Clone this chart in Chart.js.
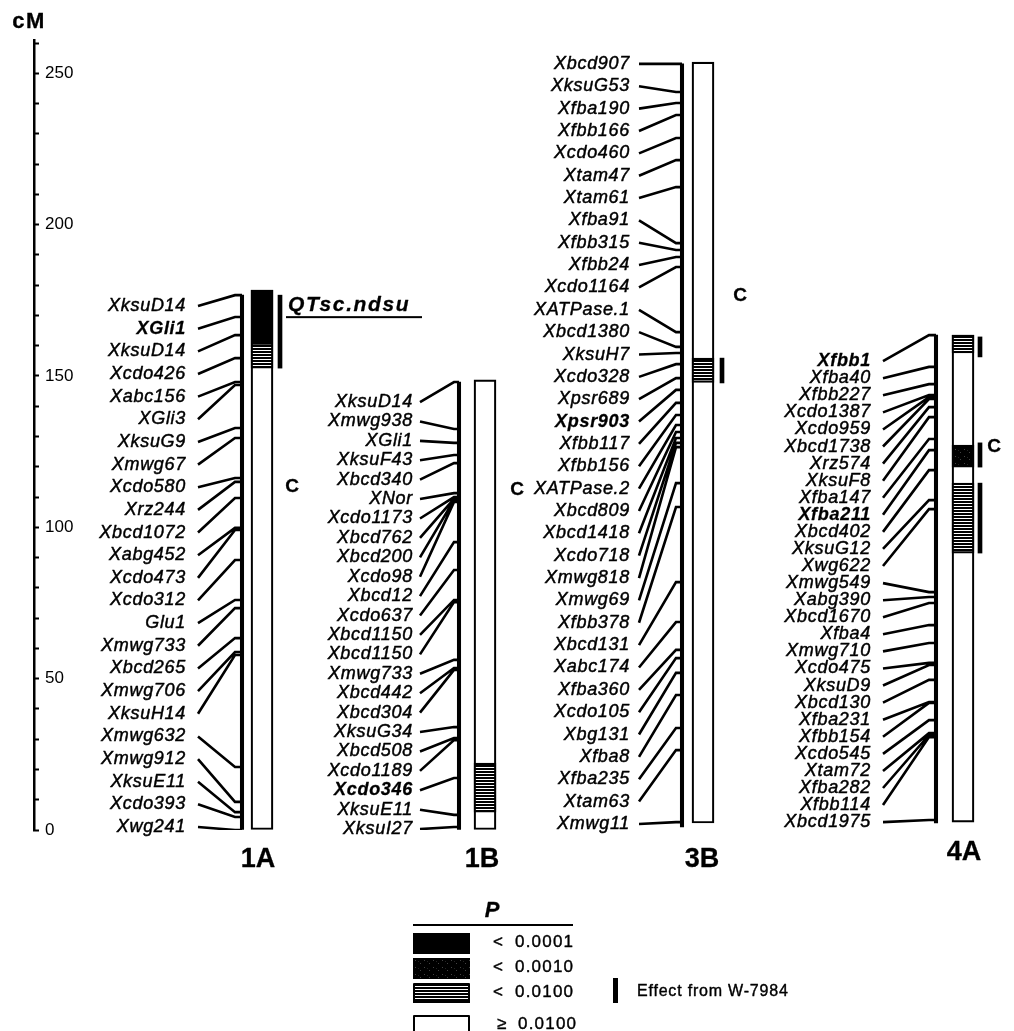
<!DOCTYPE html>
<html><head><meta charset="utf-8">
<script src="https://cdn.jsdelivr.net/npm/chart.js@4.4.1/dist/chart.umd.min.js"></script>
<style>html,body{margin:0;padding:0;background:#fff;}canvas{display:block;}</style>
</head><body>
<canvas id="c" width="1014" height="1031"></canvas>
<script>
// ---------------- DATA (cM) ----------------
const markers1A = ['XksuD14','XGli1','XksuD14','Xcdo426','Xabc156','XGli3','XksuG9','Xmwg67','Xcdo580','Xrz244','Xbcd1072','Xabg452','Xcdo473','Xcdo312','Glu1','Xmwg733','Xbcd265','Xmwg706','XksuH14','Xmwg632','Xmwg912','XksuE11','Xcdo393','Xwg241'];
const pos1A = [176.7,169.5,163.5,155.9,148.0,147.0,132.8,129.5,116.3,115.0,109.7,99.8,99.1,89.2,76.0,73.3,63.4,58.8,57.8,20.8,9.3,5.9,4.3,0];
const bold1A = [1];
const extent1A = [0, 178.4];
const black1A = [[160.9, 178.4]];
const hatch1A = [[152.6, 160.9]];
const dense1A = [];
const effect1A = [[152.6, 176.7]];
const mapLine1A = [0, 176.7];
const centro1A = 113.3;

const markers1B = ['XksuD14','Xmwg938','XGli1','XksuF43','Xbcd340','XNor','Xcdo1173','Xbcd762','Xbcd200','Xcdo98','Xbcd12','Xcdo637','Xbcd1150','Xbcd1150','Xmwg733','Xbcd442','Xbcd304','XksuG34','Xbcd508','Xcdo1189','Xcdo346','XksuE11','XksuI27'];
const pos1B = [148.0,132.5,127.9,123.9,121.2,111.3,110.0,109.4,109.0,108.4,95.1,85.9,76.0,75.3,56.2,53.5,52.9,34.0,30.4,29.7,17.2,5.0,1.0];
const bold1B = [20];
const extent1B = [0, 148.7];
const black1B = [];
const hatch1B = [[5.9, 22.1]];
const dense1B = [];
const effect1B = [];
const mapLine1B = [0, 148.0];
const centro1B = 112.3;

const markers3B = ['Xbcd907','XksuG53','Xfba190','Xfbb166','Xcdo460','Xtam47','Xtam61','Xfba91','Xfbb315','Xfbb24','Xcdo1164','XATPase.1','Xbcd1380','XksuH7','Xcdo328','Xpsr689','Xpsr903','Xfbb117','Xfbb156','XATPase.2','Xbcd809','Xbcd1418','Xcdo718','Xmwg818','Xmwg69','Xfbb378','Xbcd131','Xabc174','Xfba360','Xcdo105','Xbg131','Xfba8','Xfba235','Xtam63','Xmwg11'];
const pos3B = [253.1,243.8,240.2,236.2,228.6,221.3,212.4,193.9,191.6,189.3,186.0,164.5,159.6,157.6,153.9,149.3,145.4,141.1,137.1,133.8,131.5,129.5,127.9,126.5,114.6,106.7,81.9,68.7,59.5,56.8,51.9,44.6,33.7,26.4,2.6];
const bold3B = [16];
const extent3B = [2.3, 253.7];
const black3B = [];
const hatch3B = [[147.9, 155.9]];
const dense3B = [];
const effect3B = [[147.7, 155.9]];
const mapLine3B = [1.0, 253.1];
const centro3B = 176.4;

const markers4A = ['Xfbb1','Xfba40','Xfbb227','Xcdo1387','Xcdo959','Xbcd1738','Xrz574','XksuF8','Xfba147','Xfba211','Xbcd402','XksuG12','Xwg622','Xmwg549','Xabg390','Xbcd1670','Xfba4','Xmwg710','Xcdo475','XksuD9','Xbcd130','Xfba231','Xfbb154','Xcdo545','Xtam72','Xfba282','Xfbb114','Xbcd1975'];
const pos4A = [163.5,153.0,147.3,143.7,143.0,142.4,139.7,136.4,129.2,125.5,118.9,109.0,106.0,78.6,77.0,75.0,67.7,61.8,55.2,54.5,49.6,42.3,42.0,36.3,32.0,31.4,30.7,3.3];
const bold4A = [0, 9];
const extent4A = [2.6, 163.5];
const black4A = [];
const hatch4A = [[157.6, 163.5], [91.5, 114.6]];
const dense4A = [[119.9, 127.2]];
const effect4A = [[156.3, 162.9], [119.9, 127.9], [91.5, 114.6]];
const mapLine4A = [2.3, 163.5];
const centro4A = 126.5;

const chromNames = ['1A', '1B', '3B', '4A'];
const yTickMax = 261;
const qtlName = 'QTsc.ndsu';
const qtlCM = 173.4;
const legendLabels = ['< 0.0001', '< 0.0010', '< 0.0100', '\u2265 0.0100'];
const effectLabel = 'Effect from W-7984';

// ---------------- LAYOUT (pixels / label spacing) ----------------
const FONT = "'Liberation Sans', Arial, Helvetica, sans-serif";
const lay = {
  '1A': {bar: 262, map: 242, knee: 235, start: 198, textRight: 186, effect: 280, nameX: 258, nameY: 860, labelTop: 173.1, labelBottom: 1.0, cX: 292},
  '1B': {bar: 485, map: 459, knee: 454, start: 420, textRight: 413, effect: 0, nameX: 482, nameY: 860, labelTop: 141.4, labelBottom: 0.3, cX: 517},
  '3B': {bar: 703, map: 682, knee: 676, start: 639, textRight: 630, effect: 722, nameX: 702, nameY: 860, labelTop: 253.1, labelBottom: 2.0, cX: 740},
  '4A': {bar: 963, map: 936, knee: 929, start: 883, textRight: 871, effect: 980, nameX: 964, nameY: 853, labelTop: 154.9, labelBottom: 2.6, cX: 994}
};

const chroms = [
  {name: '1A', names: markers1A, pos: pos1A, bold: bold1A, extent: extent1A, black: black1A, hatch: hatch1A, dense: dense1A, effect: effect1A, mapLine: mapLine1A, centro: centro1A},
  {name: '1B', names: markers1B, pos: pos1B, bold: bold1B, extent: extent1B, black: black1B, hatch: hatch1B, dense: dense1B, effect: effect1B, mapLine: mapLine1B, centro: centro1B},
  {name: '3B', names: markers3B, pos: pos3B, bold: bold3B, extent: extent3B, black: black3B, hatch: hatch3B, dense: dense3B, effect: effect3B, mapLine: mapLine3B, centro: centro3B},
  {name: '4A', names: markers4A, pos: pos4A, bold: bold4A, extent: extent4A, black: black4A, hatch: hatch4A, dense: dense4A, effect: effect4A, mapLine: mapLine4A, centro: centro4A}
];

function labelCM(ch, i) {
  const L = lay[ch.name];
  const n = ch.names.length;
  return L.labelTop - (L.labelTop - L.labelBottom) * i / (n - 1);
}

// ---------------- patterns ----------------
const mainCtx = document.getElementById('c').getContext('2d');
function makeStripes() {
  const c = document.createElement('canvas'); c.width = 4; c.height = 3;
  const g = c.getContext('2d');
  g.fillStyle = '#000'; g.fillRect(0, 0, 4, 3);
  g.fillStyle = '#fff'; g.fillRect(0, 2, 4, 1);
  return mainCtx.createPattern(c, 'repeat');
}
function makeDense() {
  const c = document.createElement('canvas'); c.width = 9; c.height = 7;
  const g = c.getContext('2d');
  g.fillStyle = '#000'; g.fillRect(0, 0, 9, 7);
  g.fillStyle = '#444'; g.fillRect(1, 1, 1, 1); g.fillRect(6, 4, 1, 1);
  g.fillStyle = '#222'; g.fillRect(4, 2, 1, 1);
  return mainCtx.createPattern(c, 'repeat');
}
const STRIPES = makeStripes();
const DENSE = makeDense();

// ---------------- datasets ----------------
const datasets = [];
chroms.forEach(ch => {
  const L = lay[ch.name];
  datasets.push({type: 'bar', data: [{x: L.bar, y: ch.extent}], backgroundColor: '#fff', borderColor: '#000',
    borderWidth: 2.2, borderSkipped: false, barThickness: 22, grouped: false, order: 5});
  const seg = (list, fill) => list.forEach(r => datasets.push({type: 'bar', data: [{x: L.bar, y: r}],
    backgroundColor: fill, borderColor: '#000', borderWidth: 2.2, borderSkipped: false, barThickness: 22, grouped: false, order: 4}));
  seg(ch.black, '#000');
  seg(ch.dense, DENSE);
  seg(ch.hatch, STRIPES);
  ch.effect.forEach(r => datasets.push({type: 'bar', data: [{x: L.effect, y: r}], backgroundColor: '#000',
    borderWidth: 0, barThickness: 4, grouped: false, order: 4}));
  datasets.push({type: 'bar', data: [{x: L.map, y: ch.mapLine}], backgroundColor: '#000', borderWidth: 0,
    barThickness: 3.4, grouped: false, order: 3});
  const pts = [];
  ch.pos.forEach((p, i) => {
    pts.push({x: L.start, y: labelCM(ch, i)});
    pts.push({x: L.knee, y: p});
    pts.push({x: L.map, y: p});
    pts.push({x: null, y: null});
  });
  datasets.push({type: 'line', data: pts, borderColor: '#000', borderWidth: 2.6, pointRadius: 0,
    fill: false, tension: 0, spanGaps: false, order: 2, borderJoinStyle: 'miter', borderCapStyle: 'butt'});
});

// ---------------- text plugin ----------------
function txt(ctx, s, x, y, font, align, spacing, stroke) {
  ctx.font = font;
  ctx.textAlign = align;
  try { ctx.letterSpacing = (spacing || 0) + 'px'; } catch (e) {}
  ctx.fillText(s, x, y);
  if (stroke) { ctx.lineWidth = stroke; ctx.strokeText(s, x, y); }
}
const textPlugin = {
  id: 'texts',
  afterDatasetsDraw(chart) {
    const ctx = chart.ctx; const ys = chart.scales.y;
    ctx.save();
    ctx.fillStyle = '#000'; ctx.strokeStyle = '#000'; ctx.lineJoin = 'round';
    ctx.textBaseline = 'middle';
    chroms.forEach(ch => {
      const L = lay[ch.name];
      ch.names.forEach((n, i) => {
        const b = ch.bold.includes(i);
        const f = (b ? 'italic bold 18px ' : 'italic 18px ') + FONT;
        txt(ctx, n, L.textRight, ys.getPixelForValue(labelCM(ch, i)), f, 'right', 0.7, b ? 0.3 : 0.45);
      });
      txt(ctx, 'C', L.cX, ys.getPixelForValue(ch.centro), 'bold 19px ' + FONT, 'center', 0, 0.3);
      txt(ctx, ch.name, L.nameX, L.nameY, 'bold 27px ' + FONT, 'center', 0, 0.3);
    });
    const qy = ys.getPixelForValue(qtlCM);
    txt(ctx, qtlName, 288, qy, 'italic bold 21px ' + FONT, 'left', 1.6, 0.3);
    ctx.fillRect(286, qy + 11, 136, 2);
    txt(ctx, 'cM', 29, 22, 'bold 22px ' + FONT, 'center', 1.5, 0.3);
    // legend
    txt(ctx, 'P', 492, 911, 'italic bold 22px ' + FONT, 'center', 0, 0.3);
    ctx.fillRect(413, 924, 160, 2);
    ctx.fillStyle = '#000'; ctx.fillRect(413, 933, 57, 21);
    ctx.fillStyle = DENSE; ctx.fillRect(413, 958, 57, 21);
    ctx.fillStyle = STRIPES; ctx.fillRect(413, 983, 57, 20);
    ctx.strokeStyle = '#000'; ctx.lineWidth = 2; ctx.strokeRect(414, 984, 55, 18);
    ctx.fillStyle = '#fff'; ctx.fillRect(414, 1016, 55, 20);
    ctx.strokeRect(414, 1016, 55, 20);
    ctx.fillStyle = '#000';
    const ly = [942, 967, 992, 1024];
    legendLabels.forEach((s, i) => {
      const parts = s.split(' ');
      txt(ctx, parts[0], i === 3 ? 497 : 493, ly[i], '17px ' + FONT, 'left', 0, 0.4);
      txt(ctx, parts[1], i === 3 ? 518 : 515, ly[i], '17px ' + FONT, 'left', 1.2, 0.4);
    });
    ctx.fillRect(613, 978, 5, 25);
    txt(ctx, effectLabel, 637, 992, '16px ' + FONT, 'left', 0.8, 0.4);
    ctx.restore();
  }
};

new Chart(document.getElementById('c'), {
  type: 'bar',
  data: {datasets},
  options: {
    responsive: false, animation: false, devicePixelRatio: 1,
    layout: {padding: {top: 40, bottom: 201, left: 0, right: 0}},
    plugins: {legend: {display: false}, tooltip: {enabled: false}},
    scales: {
      x: {type: 'linear', min: 34, max: 1014, display: false, offset: false, grid: {display: false}},
      y: {type: 'linear', min: 0, max: yTickMax, position: 'left',
        afterFit: s => { s.width = 34; },
        border: {display: true, color: '#000', width: 2.5},
        grid: {drawOnChartArea: false, drawTicks: true, tickLength: -5, tickWidth: 2, tickColor: '#000'},
        ticks: {stepSize: 10, includeBounds: false, autoSkip: false, mirror: true, padding: 11, color: '#000',
          font: {family: FONT, size: 17}, callback: v => (v % 50 === 0 ? String(v) : '')}
      }
    }
  },
  plugins: [textPlugin]
});
</script>
</body></html>
